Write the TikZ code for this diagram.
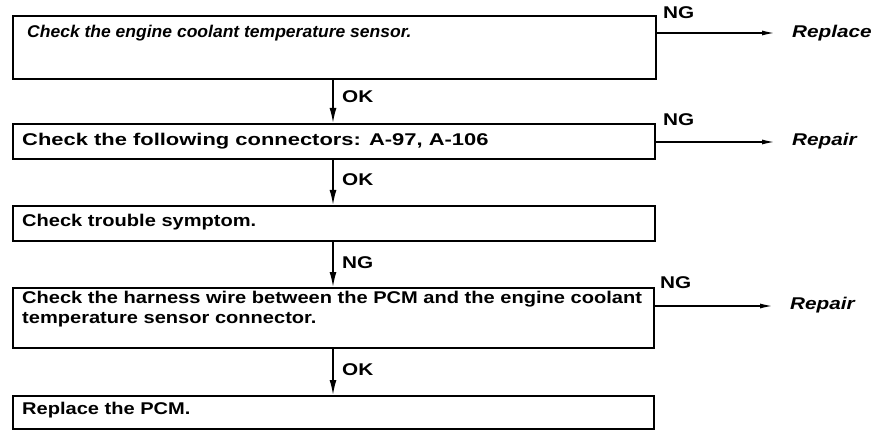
\documentclass[tikz,border=0pt]{standalone}
\usepackage{fontspec}
\setmainfont{Liberation Sans}
\newfontfamily\wideA[FakeStretch=1.18]{Liberation Sans}
\newfontfamily\wideB[FakeStretch=1.29]{Liberation Sans}
\newfontfamily\wideC[FakeStretch=1.03]{Liberation Sans}
\newfontfamily\wideL[FakeStretch=1.22]{Liberation Sans}
\usetikzlibrary{arrows.meta}
\begin{document}
\begin{tikzpicture}[x=1pt,y=-1pt,
  box/.style={draw,line width=2pt,anchor=north west,inner sep=0pt},
  txt/.style={anchor=base west,inner sep=0pt,font=\wideA\bfseries\fontsize{17}{20}\selectfont},
  lbl/.style={anchor=west,inner sep=0pt,font=\wideL\bfseries\fontsize{17}{18}\selectfont},
  fix/.style={anchor=west,inner sep=0pt,font=\wideL\bfseries\itshape\fontsize{17}{18}\selectfont},
  down/.style={line width=1.6pt,-{Latex[length=15pt,width=7pt]}},
  side/.style={line width=1.6pt,-{Latex[length=13pt,width=5pt]}}]
\useasboundingbox (0,0) rectangle (896,438);
% boxes
\node[box,minimum width=643pt,minimum height=63pt] (b1) at (12,15) {};
\node[box,minimum width=642pt,minimum height=35pt] (b2) at (12,123) {};
\node[box,minimum width=642pt,minimum height=35pt] (b3) at (12,205) {};
\node[box,minimum width=641pt,minimum height=60pt] (b4) at (12,287) {};
\node[box,minimum width=641pt,minimum height=33pt] (b5) at (12,395) {};
% texts
\node[txt,font=\wideC\bfseries\itshape\fontsize{17}{20}\selectfont] (t1) at (27,38) {Check the engine coolant temperature sensor.};
\node[txt,font=\wideB\bfseries\fontsize{17}{20}\selectfont] (t2) at (22,146) {Check the following connectors: A-97, A-106};
\node[txt] (t3) at (22,227) {Check trouble symptom.};
\node[txt] (t4) at (22,303) {Check the harness wire between the PCM and the engine coolant};
\node[txt] (t4b) at (22,323) {temperature sensor connector.};
\node[txt] (t5) at (22,414) {Replace the PCM.};
% vertical connectors
\draw[down] (b1.south -| 333,0) -- (b2.north -| 333,0);
\node[lbl] (l1) at (342,97) {OK};
\draw[down] (b2.south -| 333,0) -- (b3.north -| 333,0);
\node[lbl] (l2) at (342,180) {OK};
\draw[down] (b3.south -| 333,0) -- (b4.north -| 333,0);
\node[lbl] (l3) at (342,263) {NG};
\draw[down] (b4.south -| 333,0) -- (b5.north -| 333,0);
\node[lbl] (l4) at (342,370) {OK};
% side connectors
\node[fix] (r1) at (792,33) {Replace};
\node[fix] (r2) at (792,141) {Repair};
\node[fix] (r3) at (790,305) {Repair};
\coordinate (e1) at (775,33);
\coordinate (e2) at (775,142);
\coordinate (e3) at (773,306);
\draw[side] (b1.east |- e1) -- (e1);
\draw[side] (b2.east |- e2) -- (e2);
\draw[side] (b4.east |- e3) -- (e3);
\node[lbl] (n1) at (663,13) {NG};
\node[lbl] (n2) at (663,120) {NG};
\node[lbl] (n3) at (660,283) {NG};
\end{tikzpicture}
\end{document}
